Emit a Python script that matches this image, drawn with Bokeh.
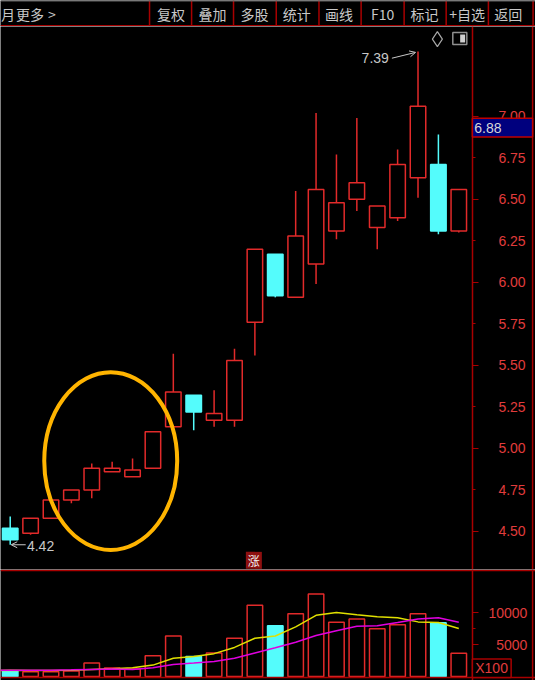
from bokeh.plotting import figure
from bokeh.layouts import column
from bokeh.models import (Range1d, Span, Arrow, OpenHead, FixedTicker,
                          ColumnDataSource)
from bokeh.embed import file_html
from bokeh.resources import INLINE
from bokeh.core.properties import value

# ---------------- data ----------------
idx = list(range(1, 24))
opens = [4.52, 4.49, 4.58, 4.69, 4.75, 4.86, 4.83, 4.88, 5.13, 5.32, 5.17, 5.17,
         5.76, 6.17, 5.91, 6.11, 6.31, 6.50, 6.33, 6.39, 6.63, 6.71, 6.31]
highs = [4.59, 4.58, 4.69, 4.75, 4.91, 4.92, 4.94, 5.10, 5.57, 5.32, 5.35, 5.60,
         6.20, 6.17, 6.55, 7.02, 6.77, 6.99, 6.46, 6.80, 7.39, 6.89, 6.56]
lows = [4.42, 4.48, 4.58, 4.67, 4.70, 4.86, 4.83, 4.88, 5.13, 5.11, 5.13, 5.13,
        5.56, 5.91, 5.91, 5.99, 6.26, 6.43, 6.20, 6.37, 6.51, 6.29, 6.30]
closes = [4.45, 4.58, 4.69, 4.75, 4.88, 4.88, 4.87, 5.10, 5.34, 5.22, 5.21, 5.53,
          6.20, 5.92, 6.28, 6.56, 6.48, 6.60, 6.46, 6.71, 7.06, 6.31, 6.56]
volumes = [900, 770, 770, 870, 2100, 1330, 1180, 3270, 6340, 3120, 3680, 5980,
           11150, 7930, 9820, 12890, 8490, 9000, 7470, 8080, 9820, 8390, 3630]
ma_idx = list(range(0, 24))
ma5 = [960, 970, 960, 950, 1000, 1120, 1230, 1380, 1790, 2860, 3120, 3580, 4550,
       5980, 6340, 7770, 9560, 10020, 9660, 9360, 9200, 8540, 8440, 7510]
ma10 = [980, 990, 1000, 1000, 1050, 1120, 1180, 1120, 1380, 1890, 2100, 2350, 2860,
        3680, 4500, 5350, 6400, 7150, 7870, 7920, 8440, 9000, 9200, 8490]
price_ticks = [4.50, 4.75, 5.00, 5.25, 5.50, 5.75, 6.00, 6.25, 6.50, 6.75, 7.00]
price_tick_labels = ["4.50", "4.75", "5.00", "5.25", "5.50", "5.75", "6.00",
                     "6.25", "6.50", "6.75", "7.00"]
vol_ticks = [5000, 10000]
vol_tick_labels = ["\u20075000", "10000"]
menu_items = ["复权", "叠加", "多股", "统计", "画线", "F10", "标记", "+自选", "返回"]
high_text = "7.39"
low_text = "4.42"
last_price = 6.88
last_price_text = "6.88"
unit_text = "X100"
limit_text = "涨"

# ---------------- styles / layout ----------------
RED = "#e22a2a"
CYAN = "#54fcfc"
AXIS_RED = "#a80000"
LABEL_RED = "#e03c3c"
GRAY = "#c8c8c8"
W = 535
H_HEAD, H_PRICE, H_VOL = 26, 543, 111
X_RANGE = (0.524, 26.762)      # candle slots, incl. the price-scale strip
AXIS_X = 23.667                # where the price scale starts
EDGE_X = 26.62                 # right border line

up = [c >= o for o, c in zip(opens, closes)]
line_colors = [RED if u else CYAN for u in up]
fill_colors = ["black" if u else CYAN for u in up]


def base_fig(height, y_range, x_range, right_axis=True):
    f = figure(width=W, height=height, x_range=Range1d(*x_range),
               y_range=Range1d(*y_range), x_axis_location=None,
               y_axis_location="right" if right_axis else None,
               min_border=0, toolbar_location=None, tools="",
               output_backend="svg", background_fill_color="black",
               border_fill_color="black", outline_line_color=None)
    f.grid.visible = False
    return f


def style_axis(a, ticks, minor, labels, tick_major, tick_minor, standoff):
    a.fixed_location = AXIS_X
    a.ticker = FixedTicker(ticks=ticks, minor_ticks=minor)
    a.major_label_overrides = {t: s for t, s in zip(ticks, labels)}
    a.axis_line_color = AXIS_RED
    a.axis_line_width = 1.5
    a.major_tick_line_color = AXIS_RED
    a.minor_tick_line_color = AXIS_RED
    a.major_tick_out = tick_major
    a.major_tick_in = 0
    a.minor_tick_out = tick_minor
    a.minor_tick_in = 0
    a.major_label_standoff = standoff
    a.major_label_text_color = LABEL_RED
    a.major_label_text_font = "Liberation Sans"
    a.major_label_text_font_size = "14px"


# ---------------- header ----------------
head = base_fig(H_HEAD, (27, 0), (0, 551), right_axis=False)
seps = [153.5, 196.8, 240, 284, 328, 371.4, 415.7, 459, 502.5, 548.5]
centers = [175.5, 218.3, 261.5, 305, 348.7, 393.5, 436.8, 480.5, 523]
head.segment(x0=seps, y0=[0] * len(seps), x1=seps, y1=[27] * len(seps),
             line_color=AXIS_RED, line_width=1.5)
head.add_layout(Span(location=26.2, dimension="width", line_color=AXIS_RED, line_width=1.5))
head.add_layout(Span(location=0.5, dimension="width", line_color="#6a6a6a", line_width=1))
head.text(x=centers, y=[14] * len(centers), text=menu_items,
          text_font=value("Noto Sans CJK SC"), text_font_size="14px",
          text_color=GRAY, text_align="center", text_baseline="middle")
head.text(x=[0.5, 16, 49], y=[14, 14, 14], text=["月", "更多", ">"],
          text_font=value("Noto Sans CJK SC"), text_font_size="14px",
          text_color=GRAY, text_align="left", text_baseline="middle")

# ---------------- price panel ----------------
p = base_fig(H_PRICE, (4.271, 7.541), X_RANGE)
src = ColumnDataSource(dict(
    x=idx, o=opens, h=highs, l=lows, c=closes,
    top=[max(o, c) for o, c in zip(opens, closes)],
    bottom=[min(o, c) for o, c in zip(opens, closes)],
    lc=line_colors, fc=fill_colors))
p.segment(x0="x", y0="l", x1="x", y1="h", source=src, line_color="lc", line_width=1.5)
p.vbar(x="x", width=0.76, top="top", bottom="bottom", source=src,
       fill_color="fc", line_color="lc", line_width=1.5)

style_axis(p.yaxis[0], price_ticks, price_ticks[::2], price_tick_labels, 3, 6, 20)
p.add_layout(Span(location=EDGE_X, dimension="height", line_color=AXIS_RED, line_width=1.5))

# highlight ellipse
p.ellipse(x=[5.93], y=[4.924], width=[6.52], height=[1.07],
          fill_color=None, line_color="#ffb400", line_width=4)

# high / low annotations
i_hi = highs.index(max(highs)) + 1
i_lo = lows.index(min(lows)) + 1
p.text(x=[i_hi - 1.43], y=[7.35], text=[high_text], text_font=value("Liberation Sans"),
       text_font_size="14px", text_color=GRAY, text_align="right", text_baseline="middle")
p.add_layout(Arrow(end=OpenHead(size=6, line_color=GRAY, line_width=1),
                   x_start=i_hi - 1.28, y_start=7.35, x_end=i_hi - 0.12, y_end=max(highs) - 0.005,
                   line_color=GRAY, line_width=1))
p.add_layout(Arrow(end=OpenHead(size=6, line_color=GRAY, line_width=1),
                   x_start=i_lo + 0.76, y_start=min(lows), x_end=i_lo + 0.05, y_end=min(lows),
                   line_color=GRAY, line_width=1))
p.text(x=[i_lo + 0.82], y=[min(lows) - 0.01], text=[low_text], text_font=value("Liberation Sans"),
       text_font_size="14px", text_color=GRAY, text_align="left", text_baseline="middle")

# icons top right
p.scatter(x=[21.95], y=[7.465], marker="diamond", size=15, fill_color=None,
          line_color="#a8a8a8", line_width=1.2)
p.rect(x=[23.05], y=[7.468], width=14, height=12, width_units="screen", height_units="screen",
       fill_color=None, line_color="#909090", line_width=1.5)
p.rect(x=[23.05 + 0.14], y=[7.468], width=5, height=8, width_units="screen", height_units="screen",
       fill_color="#d0d0d0", line_color=None)

# limit-up marker
p.rect(x=[12.95], y=[4.326], width=16, height=17, width_units="screen", height_units="screen",
       fill_color="#8e1010", line_color=None)
p.text(x=[12.95], y=[4.326], text=[limit_text], text_font=value("Noto Sans CJK SC"),
       text_font_size="12px", text_color="#f0f0f0", text_align="center", text_baseline="middle")

# last price box on the price scale (drawn over the scale)
box_y = last_price + 0.052
r1 = p.rect(x=[(AXIS_X + EDGE_X) / 2], y=[box_y], width=[EDGE_X - AXIS_X], height=[0.112],
            fill_color="#00007e", line_color="#c00000", line_width=1.5)
r2 = p.text(x=[AXIS_X + 0.09], y=[box_y], text=[last_price_text], text_font=value("Liberation Sans"),
            text_font_size="14px", text_color="#d8d8d8", text_align="left", text_baseline="middle")
r1.level = "overlay"
r2.level = "overlay"

# ---------------- volume panel ----------------
v = base_fig(H_VOL, (-614, 16720), X_RANGE)
vsrc = ColumnDataSource(dict(x=idx, vol=volumes, lc=line_colors, fc=fill_colors))
v.vbar(x="x", width=0.76, top="vol", bottom=0, source=vsrc,
       fill_color="fc", line_color="lc", line_width=1.5)
v.line(x=ma_idx, y=ma5, line_color="#e0e000", line_width=1.5)
v.line(x=ma_idx, y=ma10, line_color="#e000e0", line_width=1.5)
v.add_layout(Span(location=16560, dimension="width", line_color=AXIS_RED, line_width=1.5))
v.add_layout(Span(location=-153, dimension="width", line_color=AXIS_RED, line_width=1.5))
v.add_layout(Span(location=EDGE_X, dimension="height", line_color=AXIS_RED, line_width=1.5))

style_axis(v.yaxis[0], vol_ticks, [7500], vol_tick_labels, 6, 3, 10)

u1 = v.rect(x=[AXIS_X + 0.95], y=[1300], width=[1.9], height=[2900],
            fill_color="black", line_color=AXIS_RED, line_width=1.5)
u2 = v.text(x=[AXIS_X + 0.14], y=[1300], text=[unit_text], text_font=value("Liberation Sans"),
            text_font_size="14px", text_color=LABEL_RED, text_align="left", text_baseline="middle")
u1.level = "overlay"
u2.level = "overlay"

layout = column(head, p, v, spacing=0)
open("out.html", "w").write(file_html(layout, INLINE))
